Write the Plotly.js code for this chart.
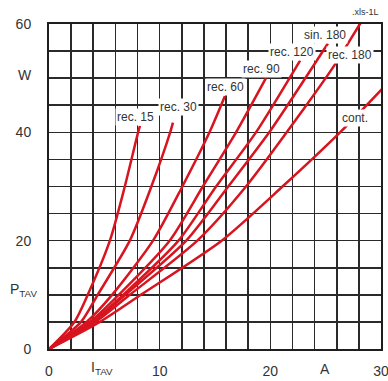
<!DOCTYPE html>
<html>
<head>
<meta charset="utf-8">
<script src="https://cdn.plot.ly/plotly-3.0.1.min.js"></script>
<style>html,body{margin:0;padding:0;background:#fff;}#chart{width:388px;height:381px;}</style>
</head>
<body>
<div id="chart"></div>
<script>
// Curve data: average current I_TAV (A) and power loss P_TAV (W)
const curveNames = ["rec. 15", "rec. 30", "rec. 60", "rec. 90", "rec. 120", "sin. 180", "rec. 180", "cont."];
const rec15I  = [0, 2.3, 3.5, 5.5, 6.85, 8.05, 8.22];
const rec15P  = [0, 5, 10, 20, 30, 40, 41.2];
const rec30I  = [0, 2.9, 4.4, 7.3, 9.25, 10.95, 11.2];
const rec30P  = [0, 5, 10, 20, 30, 40, 41.8];
const rec60I  = [0, 3.4, 5.7, 9.4, 12.05, 14.5, 15.9];
const rec60P  = [0, 5, 10, 20, 30, 40, 46.7];
const rec90I  = [0, 3.7, 6.3, 10.9, 13.9, 16.9, 19.6];
const rec90P  = [0, 5, 10, 20, 30, 40, 50];
const rec120I = [0, 3.9, 6.7, 11.7, 15.1, 18.7, 22.7];
const rec120P = [0, 5, 10, 20, 30, 40, 53.3];
const sin180I = [0, 4.0, 6.9, 12.4, 16.2, 19.9, 25.2];
const sin180P = [0, 5, 10, 20, 30, 40, 56.4];
const rec180I = [0, 4.2, 7.3, 13.4, 17.8, 22.9, 25.8, 28.1, 28.6];
const rec180P = [0, 5, 10, 20, 30, 44, 52.4, 60, 61.5];
const contI   = [0, 4.6, 8.3, 15.6, 21.1, 26.3, 30, 31];
const contP   = [0, 5, 10, 20, 30, 40, 47.8, 50];

// label anchor positions (I, P) for the curve names
const labelI = [7.86, 11.74, 15.99, 19.24, 21.95, 24.93, 27.19, 27.64];
const labelP = [42.8, 44.7, 48.4, 51.7, 54.8, 58.0, 54.3, 42.6];

// tick labels and grid spacing
const xTicks = [0, 10, 20, 30];
const yTicks = [0, 20, 40, 60];
const xGridStep = 2;
const yGridStep = 5;

const seriesI = [rec15I, rec30I, rec60I, rec90I, rec120I, sin180I, rec180I, contI];
const seriesP = [rec15P, rec30P, rec60P, rec90P, rec120P, sin180P, rec180P, contP];

const red = '#d7141f';
const txt = '#333333';
const gridC = '#2a2a2a';
const font = 'Liberation Sans, Arial, sans-serif';

const traces = curveNames.map((n, i) => ({
  x: seriesI[i], y: seriesP[i], name: n, type: 'scatter', mode: 'lines',
  line: {color: red, width: 2.5, shape: 'spline', smoothing: 0.7},
  hoverinfo: 'skip'
}));

const annotations = curveNames.map((n, i) => ({
  x: labelI[i], y: labelP[i], xref: 'x', yref: 'y', text: n, showarrow: false,
  xanchor: 'center', yanchor: 'middle',
  font: {family: font, size: 12, color: txt}, bgcolor: '#ffffff', borderpad: 1
}));

function px2paperX(px) { return (px - 49) / 332; }
function px2paperY(py) { return (349 - py) / 325; }

function sideLabel(px, py, text, size, xa) {
  return {x: px2paperX(px), y: px2paperY(py), xref: 'paper', yref: 'paper', text: text,
    showarrow: false, xanchor: xa || 'center', yanchor: 'middle',
    font: {family: font, size: size, color: txt}};
}

annotations.push(
  sideLabel(25, 75, 'W', 14),
  sideLabel(24, 290, 'P<sub>TAV</sub>', 14),
  sideLabel(102, 368, 'I<sub>TAV</sub>', 14),
  sideLabel(325, 369, 'A', 14),
  sideLabel(381, 12, '.xls-1L', 9, 'right')
);

const axisCommon = {
  showgrid: true, gridcolor: gridC, gridwidth: 1.6,
  zeroline: false, showline: true, mirror: true, linecolor: '#1e1e1e', linewidth: 2,
  tickmode: 'array', tickcolor: 'rgba(0,0,0,0)', ticks: 'outside',
  tickfont: {family: font, size: 14, color: txt}, fixedrange: true,
  ticklabeloverflow: 'allow'
};

const layout = {
  width: 388, height: 381,
  margin: {l: 49, r: 7, t: 24, b: 32},
  paper_bgcolor: '#ffffff', plot_bgcolor: '#ffffff',
  showlegend: false,
  xaxis: Object.assign({}, axisCommon, {
    range: [0, 30], tickvals: xTicks, ticktext: xTicks.map(String), ticklen: 8,
    minor: {dtick: xGridStep, tick0: 0, showgrid: true, gridcolor: gridC, gridwidth: 1.6, ticks: ''}
  }),
  yaxis: Object.assign({}, axisCommon, {
    range: [0, 60], tickvals: yTicks, ticktext: yTicks.map(String), ticklen: 13,
    minor: {dtick: yGridStep, tick0: 0, showgrid: true, gridcolor: gridC, gridwidth: 1.6, ticks: ''}
  }),
  annotations: annotations
};

Plotly.newPlot('chart', traces, layout, {staticPlot: true, displayModeBar: false});
</script>
</body>
</html>
